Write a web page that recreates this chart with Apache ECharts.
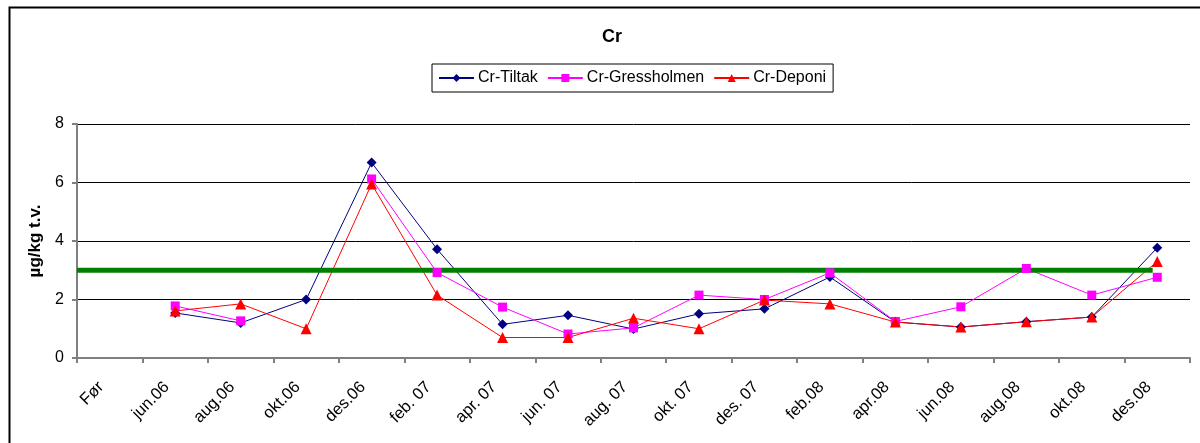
<!DOCTYPE html>
<html>
<head>
<meta charset="utf-8">
<script src="https://cdn.jsdelivr.net/npm/echarts@6/dist/echarts.min.js"></script>
<style>
  html, body { margin: 0; padding: 0; background: #fff; }
  #chart { width: 1200px; height: 443px; }
</style>
</head>
<body>
<div id="chart"></div>
<script>
const categories = ["Før", "jun.06", "aug.06", "okt.06", "des.06", "feb. 07", "apr. 07", "jun. 07", "aug. 07", "okt. 07", "des. 07", "feb.08", "apr.08", "jun.08", "aug.08", "okt.08", "des.08"];
const tiltak = [null, 1.54, 1.2, 2.0, 6.68, 3.72, 1.15, 1.46, 0.99, 1.51, 1.68, 2.77, 1.23, 1.06, 1.24, 1.4, 3.77];
const gressholmen = [null, 1.78, 1.27, null, 6.12, 2.92, 1.74, 0.82, 1.03, 2.15, 2.0, 2.91, 1.25, 1.75, 3.06, 2.15, 2.76];
const deponi = [null, 1.61, 1.85, 1.0, 5.95, 2.15, 0.7, 0.7, 1.36, 1.0, 1.98, 1.85, 1.23, 1.06, 1.24, 1.4, 3.3];
const limitValue = 3;
const limitSpan = [0, 16.43]; // in category units, from the y axis
const yTicks = { min: 0, max: 8, interval: 2 };

const font = "Liberation Sans, Arial, sans-serif";
const chart = echarts.init(document.getElementById("chart"));

function lineSeries(name, data, color, symbol, size) {
  return {
    name, type: "line", data, connectNulls: false,
    symbol, symbolSize: size, showSymbol: true,
    itemStyle: { color }, lineStyle: { color, width: 1 },
    emphasis: { disabled: true }, animation: false
  };
}

chart.setOption({
  animation: false,
  graphic: [{
    type: "rect", left: 7, top: 5,
    shape: { width: 1220, height: 460 },
    style: { fill: "none", stroke: "#000", lineWidth: 2 }
  }],
  title: {
    text: "Cr", left: 597, top: 23,
    textStyle: { fontFamily: font, fontSize: 18, fontWeight: "bold", color: "#000" }
  },
  legend: {
    data: ["Cr-Tiltak", "Cr-Gressholmen", "Cr-Deponi"],
    left: 432, top: 64,
    padding: [6, 7, 6, 6],
    itemGap: 9, itemWidth: 35, itemHeight: 10,
    borderColor: "#000", borderWidth: 1,
    textStyle: { fontFamily: font, fontSize: 16, color: "#000", padding: [0, 0, 0, -1] }
  },
  grid: { left: 77, right: 10, top: 124, bottom: 85, containLabel: false },
  xAxis: [{
    type: "category", data: categories, boundaryGap: true,
    axisLine: { lineStyle: { color: "#808080", width: 2 } },
    axisTick: { show: true, length: 5, lineStyle: { color: "#808080", width: 2 } },
    axisLabel: { rotate: 45, margin: 18, padding: [0, 12, 0, 0], interval: 0, fontFamily: font, fontSize: 16.5, color: "#000" },
    splitLine: { show: false }
  }, {
    type: "value", min: 0, max: categories.length, show: false
  }],
  yAxis: {
    type: "value", min: yTicks.min, max: yTicks.max, interval: yTicks.interval,
    name: "\u00b5g/kg t.v.", nameLocation: "middle", nameRotate: 90, nameGap: 31,
    nameTextStyle: { fontFamily: font, fontSize: 17, fontWeight: "bold", color: "#000" },
    axisLine: { show: true, lineStyle: { color: "#808080", width: 2 } },
    axisTick: { show: true, length: 5, lineStyle: { color: "#808080", width: 2 } },
    axisLabel: { margin: 13, fontFamily: font, fontSize: 16, color: "#000" },
    splitLine: { show: true, lineStyle: { color: "#000", width: 1 } }
  },
  series: [
    lineSeries("Cr-Tiltak", tiltak, "#000080", "diamond", 10),
    lineSeries("Cr-Gressholmen", gressholmen, "#FF00FF", "rect", 9),
    lineSeries("Cr-Deponi", deponi, "#FF0000", "triangle", 11),
    {
      name: "grense", type: "line", xAxisIndex: 1,
      data: limitSpan.map(x => [x, limitValue]),
      symbol: "none", lineStyle: { color: "#008000", width: 5 },
      emphasis: { disabled: true }, silent: true, z: 3
    }
  ]
});
</script>
</body>
</html>
